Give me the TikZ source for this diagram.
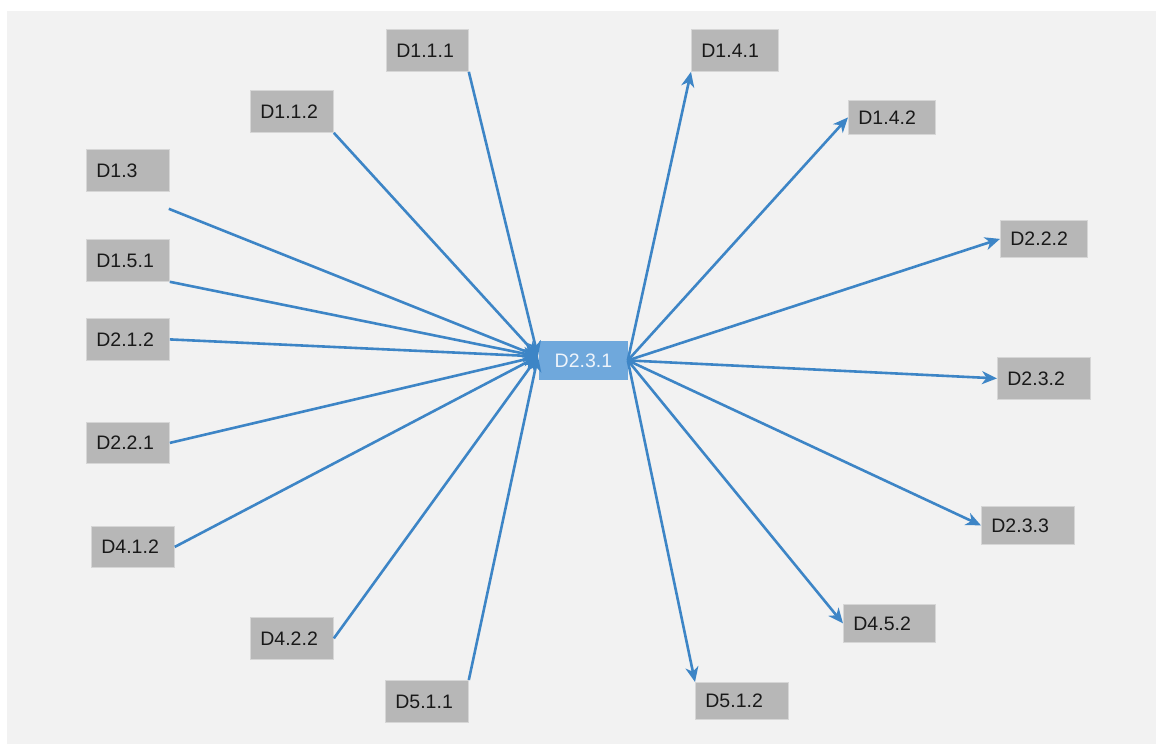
\documentclass[tikz,border=0pt]{standalone}
\usepackage{fontspec}
\setmainfont{Liberation Sans}
\usetikzlibrary{arrows.meta,calc}
\definecolor{panelbg}{HTML}{F2F2F2}
\definecolor{boxfill}{HTML}{B7B7B7}
\definecolor{boxline}{HTML}{D6D6D6}
\definecolor{hubfill}{HTML}{6FA8DC}
\definecolor{hubtext}{HTML}{EEF4FB}
\definecolor{linkblue}{HTML}{3D85C6}
\tikzset{
  dbox/.style={draw=boxline, line width=0.8pt, fill=boxfill, anchor=north west,
    inner xsep=10pt, inner ysep=0pt, align=left, text=black!90,
    font=\fontsize{19.5}{21}\selectfont},
  hubbox/.style={draw=hubfill, line width=0.8pt, fill=hubfill, anchor=north west,
    inner sep=0pt, align=center, text=hubtext,
    font=\fontsize{19.5}{21}\selectfont},
  link/.style={draw=linkblue, line width=2.6pt,
    -{Stealth[length=15pt, width=13pt, inset=4.5pt]}},
}
\begin{document}
\begin{tikzpicture}[x=1pt, y=-1pt]
  \useasboundingbox (0,0) rectangle (1156,746);
  \fill[white] (0,0) rectangle (1156,746);
  \fill[panelbg] (7,11) rectangle (1156,744);

  % central node
  \node[hubbox, minimum width=88pt, minimum height=38pt] (hub) at (539,341) {D2.3.1};

  % left column (sources)
  \node[dbox, minimum width=82pt, minimum height=42pt, text width=62pt] (d111) at (386,29)  {D1.1.1};
  \node[dbox, minimum width=83pt, minimum height=42pt, text width=63pt] (d112) at (250,90)  {D1.1.2};
  \node[dbox, minimum width=83pt, minimum height=42pt, text width=63pt] (d13)  at (86,149)  {D1.3};
  \node[dbox, minimum width=83pt, minimum height=42pt, text width=63pt] (d151) at (86,239)  {D1.5.1};
  \node[dbox, minimum width=83pt, minimum height=42pt, text width=63pt] (d212) at (86,318)  {D2.1.2};
  \node[dbox, minimum width=83pt, minimum height=41pt, text width=63pt] (d221) at (86,422)  {D2.2.1};
  \node[dbox, minimum width=83pt, minimum height=41pt, text width=63pt] (d412) at (91,526)  {D4.1.2};
  \node[dbox, minimum width=83pt, minimum height=42pt, text width=63pt] (d422) at (250,617) {D4.2.2};
  \node[dbox, minimum width=83pt, minimum height=42pt, text width=63pt] (d511) at (385,680) {D5.1.1};

  % right column (targets)
  \node[dbox, minimum width=87pt, minimum height=42pt, text width=67pt] (d141) at (691,29)  {D1.4.1};
  \node[dbox, minimum width=87pt, minimum height=34pt, text width=67pt] (d142) at (848,100) {D1.4.2};
  \node[dbox, minimum width=87pt, minimum height=37pt, text width=67pt] (d222) at (1000,220) {D2.2.2};
  \node[dbox, minimum width=93pt, minimum height=42pt, text width=73pt] (d232) at (997,357) {D2.3.2};
  \node[dbox, minimum width=93pt, minimum height=38pt, text width=73pt] (d233) at (981,506) {D2.3.3};
  \node[dbox, minimum width=92pt, minimum height=38pt, text width=72pt] (d452) at (843,604) {D4.5.2};
  \node[dbox, minimum width=93pt, minimum height=37pt, text width=73pt] (d512) at (695,682) {D5.1.2};

  % connector ends
  \coordinate (hubin) at ($(hub.west)+(-1,-4)$);
  \coordinate (d13out) at ($(d13.south east)+(-1,17)$);

  % incoming links
  \draw[link] (d111.south east) -- (hubin);
  \draw[link] (d112.south east) -- (hubin);
  \draw[link] (d13out) -- (hubin);
  \draw[link] (d151.south east) -- (hubin);
  \draw[link] (d212.east) -- (hubin);
  \draw[link] (d221.east) -- (hubin);
  \draw[link] (d412.east) -- (hubin);
  \draw[link] (d422.east) -- (hubin);
  \draw[link] (d511.north east) -- (hubin);

  % outgoing links
  \draw[link] (hub.east) -- (d141.south west);
  \draw[link] (hub.east) -- (d142.west);
  \draw[link] (hub.east) -- (d222.west);
  \draw[link] (hub.east) -- (d232.west);
  \draw[link] (hub.east) -- (d233.west);
  \draw[link] (hub.east) -- (d452.west);
  \draw[link] (hub.east) -- (d512.north west);
\end{tikzpicture}
\end{document}
